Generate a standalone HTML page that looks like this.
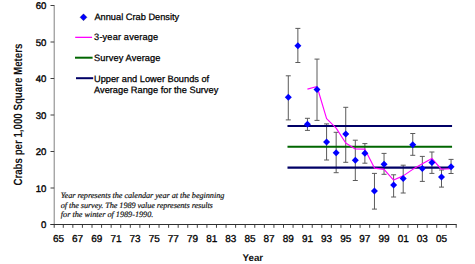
<!DOCTYPE html><html><head><meta charset="utf-8"><style>html,body{margin:0;padding:0;background:#fff;width:475px;height:264px;overflow:hidden}svg{display:block}</style></head><body>
<svg width="475" height="264" viewBox="0 0 475 264" font-family="Liberation Sans, sans-serif" text-rendering="geometricPrecision">
<rect width="475" height="264" fill="#fff"/>
<line x1="54.2" y1="5" x2="54.2" y2="225" stroke="#808080" stroke-width="1"/>
<g stroke="#404040" stroke-width="1" fill="none">
<line x1="50.5" y1="5.50" x2="54.2" y2="5.50"/>
<line x1="50.5" y1="42.00" x2="54.2" y2="42.00"/>
<line x1="50.5" y1="78.50" x2="54.2" y2="78.50"/>
<line x1="50.5" y1="115.00" x2="54.2" y2="115.00"/>
<line x1="50.5" y1="151.50" x2="54.2" y2="151.50"/>
<line x1="50.5" y1="188.00" x2="54.2" y2="188.00"/>
<line x1="50.5" y1="224.50" x2="54.2" y2="224.50"/>
<line x1="54.20" y1="224.5" x2="54.20" y2="227.8"/>
<line x1="63.28" y1="224.5" x2="63.28" y2="227.8"/>
<line x1="72.85" y1="224.5" x2="72.85" y2="227.8"/>
<line x1="82.42" y1="224.5" x2="82.42" y2="227.8"/>
<line x1="92.00" y1="224.5" x2="92.00" y2="227.8"/>
<line x1="101.58" y1="224.5" x2="101.58" y2="227.8"/>
<line x1="111.15" y1="224.5" x2="111.15" y2="227.8"/>
<line x1="120.72" y1="224.5" x2="120.72" y2="227.8"/>
<line x1="130.30" y1="224.5" x2="130.30" y2="227.8"/>
<line x1="139.88" y1="224.5" x2="139.88" y2="227.8"/>
<line x1="149.45" y1="224.5" x2="149.45" y2="227.8"/>
<line x1="159.02" y1="224.5" x2="159.02" y2="227.8"/>
<line x1="168.60" y1="224.5" x2="168.60" y2="227.8"/>
<line x1="178.18" y1="224.5" x2="178.18" y2="227.8"/>
<line x1="187.75" y1="224.5" x2="187.75" y2="227.8"/>
<line x1="197.32" y1="224.5" x2="197.32" y2="227.8"/>
<line x1="206.90" y1="224.5" x2="206.90" y2="227.8"/>
<line x1="216.47" y1="224.5" x2="216.47" y2="227.8"/>
<line x1="226.05" y1="224.5" x2="226.05" y2="227.8"/>
<line x1="235.62" y1="224.5" x2="235.62" y2="227.8"/>
<line x1="245.20" y1="224.5" x2="245.20" y2="227.8"/>
<line x1="254.77" y1="224.5" x2="254.77" y2="227.8"/>
<line x1="264.35" y1="224.5" x2="264.35" y2="227.8"/>
<line x1="273.93" y1="224.5" x2="273.93" y2="227.8"/>
<line x1="283.50" y1="224.5" x2="283.50" y2="227.8"/>
<line x1="293.07" y1="224.5" x2="293.07" y2="227.8"/>
<line x1="302.65" y1="224.5" x2="302.65" y2="227.8"/>
<line x1="312.22" y1="224.5" x2="312.22" y2="227.8"/>
<line x1="321.80" y1="224.5" x2="321.80" y2="227.8"/>
<line x1="331.37" y1="224.5" x2="331.37" y2="227.8"/>
<line x1="340.95" y1="224.5" x2="340.95" y2="227.8"/>
<line x1="350.52" y1="224.5" x2="350.52" y2="227.8"/>
<line x1="360.10" y1="224.5" x2="360.10" y2="227.8"/>
<line x1="369.67" y1="224.5" x2="369.67" y2="227.8"/>
<line x1="379.25" y1="224.5" x2="379.25" y2="227.8"/>
<line x1="388.82" y1="224.5" x2="388.82" y2="227.8"/>
<line x1="398.40" y1="224.5" x2="398.40" y2="227.8"/>
<line x1="407.97" y1="224.5" x2="407.97" y2="227.8"/>
<line x1="417.55" y1="224.5" x2="417.55" y2="227.8"/>
<line x1="427.12" y1="224.5" x2="427.12" y2="227.8"/>
<line x1="436.70" y1="224.5" x2="436.70" y2="227.8"/>
<line x1="446.27" y1="224.5" x2="446.27" y2="227.8"/>
<line x1="456.20" y1="224.5" x2="456.20" y2="227.8"/>
</g>
<line x1="50.5" y1="224.5" x2="456.7" y2="224.5" stroke="#303030" stroke-width="1"/>
<g font-size="9.6" fill="#000" stroke="#000" stroke-width="0.35" text-anchor="end">
<text x="46.4" y="9.30">60</text>
<text x="46.4" y="45.80">50</text>
<text x="46.4" y="82.30">40</text>
<text x="46.4" y="118.80">30</text>
<text x="46.4" y="155.30">20</text>
<text x="46.4" y="191.80">10</text>
<text x="46.4" y="228.30">0</text>
</g>
<g font-size="10" fill="#000" stroke="#000" stroke-width="0.3" text-anchor="middle">
<text x="58.49" y="242.1">65</text>
<text x="77.64" y="242.1">67</text>
<text x="96.79" y="242.1">69</text>
<text x="115.94" y="242.1">71</text>
<text x="135.09" y="242.1">73</text>
<text x="154.24" y="242.1">75</text>
<text x="173.39" y="242.1">77</text>
<text x="192.54" y="242.1">79</text>
<text x="211.69" y="242.1">81</text>
<text x="230.84" y="242.1">83</text>
<text x="249.99" y="242.1">85</text>
<text x="269.14" y="242.1">87</text>
<text x="288.29" y="242.1">89</text>
<text x="307.44" y="242.1">91</text>
<text x="326.59" y="242.1">93</text>
<text x="345.74" y="242.1">95</text>
<text x="364.89" y="242.1">97</text>
<text x="384.04" y="242.1">99</text>
<text x="403.19" y="242.1">01</text>
<text x="422.34" y="242.1">03</text>
<text x="441.49" y="242.1">05</text>
</g>
<text x="252.8" y="261.1" font-size="9.8" font-weight="bold" text-anchor="middle" fill="#111">Year</text>
<text transform="translate(22,114.6) rotate(-90)" font-size="12" textLength="142" lengthAdjust="spacingAndGlyphs" font-weight="bold" text-anchor="middle" fill="#111">Crabs per 1,000 Square Meters</text>
<g font-family="Liberation Serif, serif" font-style="italic" font-size="8.2" fill="#111" stroke="#111" stroke-width="0.18">
<text x="60.8" y="197.9" textLength="163.5" lengthAdjust="spacing">Year represents the calendar year at the beginning</text>
<text x="60.8" y="207.8" textLength="152" lengthAdjust="spacing">of the survey. The 1989 value represents results</text>
<text x="60.8" y="216.7" textLength="92.5" lengthAdjust="spacing">for the winter of 1989-1990.</text>
</g>
<g font-size="9.25" fill="#000" stroke="#000" stroke-width="0.25">
<path d="M83.5 13.8 L87 17.3 L83.5 20.8 L80 17.3 Z" fill="#0000ff"/>
<text x="94.4" y="20">Annual Crab Density</text>
<line x1="75.2" y1="37.35" x2="92.1" y2="37.35" stroke="#ff00ff" stroke-width="1.3"/>
<text x="94.1" y="40.2" textLength="64" lengthAdjust="spacing">3-year average</text>
<line x1="75" y1="57.7" x2="92.6" y2="57.7" stroke="#006600" stroke-width="2"/>
<text x="94" y="60.8" textLength="66.5" lengthAdjust="spacing">Survey Average</text>
<line x1="76" y1="78.2" x2="93.2" y2="78.2" stroke="#000066" stroke-width="2"/>
<text x="94" y="82">Upper and Lower Bounds of</text>
<text x="94" y="93">Average Range for the Survey</text>
</g>
<g stroke="#5a5a5a" stroke-width="1" fill="none">
<line x1="288.29" y1="75.8" x2="288.29" y2="119.9"/>
<line x1="285.79" y1="75.8" x2="290.79" y2="75.8"/>
<line x1="285.79" y1="119.9" x2="290.79" y2="119.9"/>
<line x1="297.86" y1="28.4" x2="297.86" y2="62.5"/>
<line x1="295.36" y1="28.4" x2="300.36" y2="28.4"/>
<line x1="295.36" y1="62.5" x2="300.36" y2="62.5"/>
<line x1="307.44" y1="118.3" x2="307.44" y2="130.4"/>
<line x1="304.94" y1="118.3" x2="309.94" y2="118.3"/>
<line x1="304.94" y1="130.4" x2="309.94" y2="130.4"/>
<line x1="317.01" y1="59.1" x2="317.01" y2="120.4"/>
<line x1="314.51" y1="59.1" x2="319.51" y2="59.1"/>
<line x1="314.51" y1="120.4" x2="319.51" y2="120.4"/>
<line x1="326.59" y1="123.9" x2="326.59" y2="160.0"/>
<line x1="324.09" y1="123.9" x2="329.09" y2="123.9"/>
<line x1="324.09" y1="160.0" x2="329.09" y2="160.0"/>
<line x1="336.16" y1="132.3" x2="336.16" y2="172.7"/>
<line x1="333.66" y1="132.3" x2="338.66" y2="132.3"/>
<line x1="333.66" y1="172.7" x2="338.66" y2="172.7"/>
<line x1="345.74" y1="107.3" x2="345.74" y2="162.3"/>
<line x1="343.24" y1="107.3" x2="348.24" y2="107.3"/>
<line x1="343.24" y1="162.3" x2="348.24" y2="162.3"/>
<line x1="355.31" y1="140.2" x2="355.31" y2="180.5"/>
<line x1="352.81" y1="140.2" x2="357.81" y2="140.2"/>
<line x1="352.81" y1="180.5" x2="357.81" y2="180.5"/>
<line x1="364.89" y1="143.6" x2="364.89" y2="163.2"/>
<line x1="362.39" y1="143.6" x2="367.39" y2="143.6"/>
<line x1="362.39" y1="163.2" x2="367.39" y2="163.2"/>
<line x1="374.46" y1="173.4" x2="374.46" y2="209.1"/>
<line x1="371.96" y1="173.4" x2="376.96" y2="173.4"/>
<line x1="371.96" y1="209.1" x2="376.96" y2="209.1"/>
<line x1="384.04" y1="153.4" x2="384.04" y2="174.3"/>
<line x1="381.54" y1="153.4" x2="386.54" y2="153.4"/>
<line x1="381.54" y1="174.3" x2="386.54" y2="174.3"/>
<line x1="393.61" y1="174.8" x2="393.61" y2="197.0"/>
<line x1="391.11" y1="174.8" x2="396.11" y2="174.8"/>
<line x1="391.11" y1="197.0" x2="396.11" y2="197.0"/>
<line x1="403.19" y1="165.2" x2="403.19" y2="193.0"/>
<line x1="400.69" y1="165.2" x2="405.69" y2="165.2"/>
<line x1="400.69" y1="193.0" x2="405.69" y2="193.0"/>
<line x1="412.76" y1="133.5" x2="412.76" y2="155.3"/>
<line x1="410.26" y1="133.5" x2="415.26" y2="133.5"/>
<line x1="410.26" y1="155.3" x2="415.26" y2="155.3"/>
<line x1="422.34" y1="156.4" x2="422.34" y2="181.4"/>
<line x1="419.84" y1="156.4" x2="424.84" y2="156.4"/>
<line x1="419.84" y1="181.4" x2="424.84" y2="181.4"/>
<line x1="431.91" y1="152.0" x2="431.91" y2="173.4"/>
<line x1="429.41" y1="152.0" x2="434.41" y2="152.0"/>
<line x1="429.41" y1="173.4" x2="434.41" y2="173.4"/>
<line x1="441.49" y1="170.0" x2="441.49" y2="187.1"/>
<line x1="438.99" y1="170.0" x2="443.99" y2="170.0"/>
<line x1="438.99" y1="187.1" x2="443.99" y2="187.1"/>
<line x1="451.06" y1="159.4" x2="451.06" y2="173.5"/>
<line x1="448.56" y1="159.4" x2="453.56" y2="159.4"/>
<line x1="448.56" y1="173.5" x2="453.56" y2="173.5"/>
</g>
<line x1="287.49" y1="126.0" x2="452.06" y2="126.0" stroke="#000066" stroke-width="2.2"/>
<line x1="287.49" y1="167.6" x2="452.06" y2="167.6" stroke="#000066" stroke-width="2.2"/>
<line x1="287.49" y1="146.8" x2="452.06" y2="146.8" stroke="#006600" stroke-width="2"/>
<polyline points="307.44,89.07 317.01,86.50 326.59,118.63 336.16,128.10 345.74,142.97 355.31,149.00 364.89,149.17 374.46,168.10 384.04,169.43 393.61,180.03 403.19,175.87 412.76,169.37 422.34,163.83 431.91,158.50 441.49,169.27 451.06,168.73" fill="none" stroke="#ff00ff" stroke-width="1.15" stroke-linejoin="round"/>
<g fill="#0000ff">
<path d="M288.29 93.70 L291.79 97.20 L288.29 100.70 L284.79 97.20 Z"/>
<path d="M297.86 42.20 L301.36 45.70 L297.86 49.20 L294.36 45.70 Z"/>
<path d="M307.44 120.80 L310.94 124.30 L307.44 127.80 L303.94 124.30 Z"/>
<path d="M317.01 86.00 L320.51 89.50 L317.01 93.00 L313.51 89.50 Z"/>
<path d="M326.59 138.60 L330.09 142.10 L326.59 145.60 L323.09 142.10 Z"/>
<path d="M336.16 149.20 L339.66 152.70 L336.16 156.20 L332.66 152.70 Z"/>
<path d="M345.74 130.60 L349.24 134.10 L345.74 137.60 L342.24 134.10 Z"/>
<path d="M355.31 156.70 L358.81 160.20 L355.31 163.70 L351.81 160.20 Z"/>
<path d="M364.89 149.70 L368.39 153.20 L364.89 156.70 L361.39 153.20 Z"/>
<path d="M374.46 187.40 L377.96 190.90 L374.46 194.40 L370.96 190.90 Z"/>
<path d="M384.04 160.70 L387.54 164.20 L384.04 167.70 L380.54 164.20 Z"/>
<path d="M393.61 181.50 L397.11 185.00 L393.61 188.50 L390.11 185.00 Z"/>
<path d="M403.19 174.90 L406.69 178.40 L403.19 181.90 L399.69 178.40 Z"/>
<path d="M412.76 141.20 L416.26 144.70 L412.76 148.20 L409.26 144.70 Z"/>
<path d="M422.34 164.90 L425.84 168.40 L422.34 171.90 L418.84 168.40 Z"/>
<path d="M431.91 158.90 L435.41 162.40 L431.91 165.90 L428.41 162.40 Z"/>
<path d="M441.49 173.50 L444.99 177.00 L441.49 180.50 L437.99 177.00 Z"/>
<path d="M451.06 163.30 L454.56 166.80 L451.06 170.30 L447.56 166.80 Z"/>
</g>
</svg></body></html>
